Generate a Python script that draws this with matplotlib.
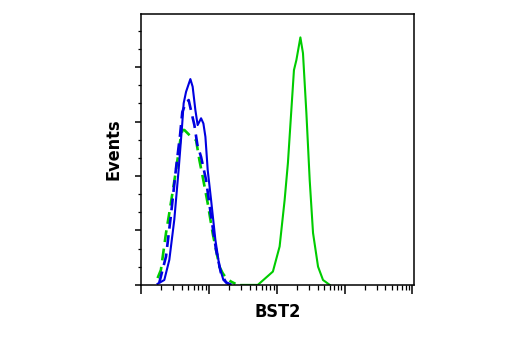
import matplotlib
matplotlib.use("Agg")
import matplotlib.pyplot as plt
from matplotlib.ticker import LogLocator, NullFormatter, MultipleLocator

# === HISTOGRAM DATA (intensity, events) ===
GREEN_X = [300, 527, 879, 1104, 1309, 1463, 1643, 1795, 1950, 2233, 2438, 2737,
           3062, 3428, 4064, 4810, 6039]
GREEN_Y = [0, 0, 4.9, 14.1, 31.2, 44.8, 64.2, 78.9, 82.6, 90.9, 85.1, 63.1,
           38.5, 19.1, 6.7, 1.8, 0]

BLUE_X = [17.6, 22.1, 26.2, 31.0, 35.9, 40.3, 42.6, 46.2, 53.5, 57.8, 63.4, 68.5,
          76.9, 83.2, 89.1, 96.3, 108, 125, 143.5, 164, 190]
BLUE_Y = [0.4, 1.8, 9.2, 23.9, 42.2, 58.1, 66.7, 70.9, 75.6, 72.8, 64.2, 58.7,
          61.2, 59.3, 54.4, 42.2, 31.2, 16.5, 6.7, 1.8, 0.4]

BLUE_DASH_X = [18.6, 23.4, 27.7, 32.9, 37.7, 40.7, 45.1, 50.5, 55.3, 61.3, 67.9,
               76.9, 91.2, 108, 128, 152, 180, 216]
BLUE_DASH_Y = [0.7, 10.4, 25.7, 42.9, 55.0, 63.5, 66.4, 67.9, 63.5, 58.7, 51.4,
               47.0, 38.5, 25.2, 12.8, 4.0, 0.9, 0]

GREEN_DASH_X = [17.6, 19.7, 23.4, 26.2, 32.9, 39.0, 41.1, 43.6, 48.3, 54.8, 64.9,
                72.6, 81.3, 96.3, 114, 128, 143.5, 160, 180, 213, 247]
GREEN_DASH_Y = [2.5, 5.5, 19.0, 26.4, 42.2, 55.0, 56.9, 56.9, 55.8, 54.4, 53.2,
                45.9, 39.7, 30.0, 19.0, 12.8, 6.7, 4.3, 2.5, 1.2, 0.4]

GREEN = "#00cc00"
BLUE = "#0000e0"

plt.rcParams["font.family"] = ["DejaVu Sans"]

fig = plt.figure(figsize=(5.2, 3.5), dpi=100)
ax = fig.add_axes([0.271, 0.186, 0.525, 0.774])

ax.plot(GREEN_X, GREEN_Y, color=GREEN, linewidth=1.5)
ax.plot(GREEN_DASH_X, GREEN_DASH_Y, color=GREEN, linewidth=1.9, dashes=(4.5, 2.5))
ax.plot(BLUE_DASH_X, BLUE_DASH_Y, color=BLUE, linewidth=1.9, dashes=(4.5, 2.5))
ax.plot(BLUE_X, BLUE_Y, color=BLUE, linewidth=1.5)

ax.set_xscale("log")
ax.set_xlim(10, 1.05e5)
ax.set_ylim(0, 99.5)

ax.xaxis.set_major_locator(LogLocator(base=10, numticks=10))
ax.xaxis.set_minor_locator(LogLocator(base=10, subs=range(2, 10), numticks=20))
ax.xaxis.set_major_formatter(NullFormatter())
ax.xaxis.set_minor_formatter(NullFormatter())
ax.yaxis.set_major_locator(MultipleLocator(20))
ax.yaxis.set_minor_locator(MultipleLocator(20 / 3))
ax.yaxis.set_major_formatter(NullFormatter())

ax.tick_params(axis="x", which="major", length=6.5, width=1.1, direction="out")
ax.tick_params(axis="x", which="minor", length=3.5, width=0.9, direction="out")
ax.tick_params(axis="y", which="major", length=4.5, width=1.1, direction="out")
ax.tick_params(axis="y", which="minor", length=2.5, width=0.9, direction="out")

for s in ax.spines.values():
    s.set_linewidth(1.1)

ax.set_xlabel("BST2", fontsize=13, fontweight="bold", fontstretch="condensed",
              labelpad=3)
ax.set_ylabel("Events", fontsize=13, fontweight="bold", fontstretch="condensed",
              labelpad=5)

fig.savefig("out.png", dpi=100)
